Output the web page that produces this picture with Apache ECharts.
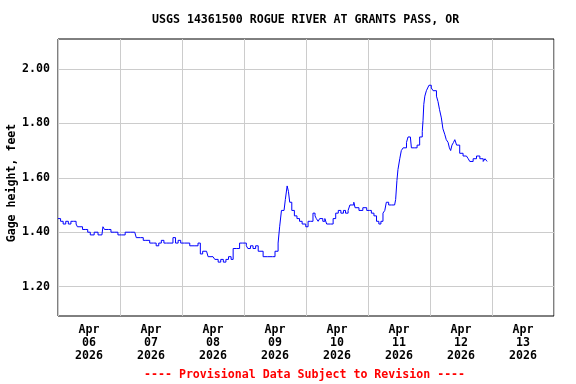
<!DOCTYPE html>
<html>
<head>
<meta charset="utf-8">
<script src="https://cdn.jsdelivr.net/npm/echarts@6/dist/echarts.min.js"></script>
<style>html,body{margin:0;padding:0;background:#fff;}#chart{width:576px;height:384px;}</style>
</head>
<body>
<div id="chart"></div>
<script>
// Data
const chartTitle = 'USGS 14361500 ROGUE RIVER AT GRANTS PASS, OR';
const footerText = '---- Provisional Data Subject to Revision ----';
const yAxisName = 'Gage height, feet';
// x values: hours after Apr 06 2026 00:00
const xTickLabels = ['Apr\n06\n2026','Apr\n07\n2026','Apr\n08\n2026','Apr\n09\n2026','Apr\n10\n2026','Apr\n11\n2026','Apr\n12\n2026','Apr\n13\n2026'];
const xLabelHours = [12, 36, 60, 84, 108, 132, 156, 180];
const yTickValues = [1.2, 1.4, 1.6, 1.8, 2.0];
const hours = [0,1,2,3,4,5,6,7,7.5,8.5,9.5,10.5,11.5,12.5,14,15.5,17,17.4,18,19.5,20.5,22,23.2,24.5,26,28,29.7,30.3,32,33,34,35.5,37,38,39,40,41,42,43,44.5,45.5,46.5,47.5,49,51,53,54.2,55.1,56,57.5,58.1,60,60.7,62,63,64,65,66,67,67.8,69,70.3,71.5,72.9,73.5,74.5,75.5,76.5,77.5,79.4,81,83,84,85.2,85.8,86.5,87.5,88,88.7,89.2,89.7,90.5,91.5,92.5,93.5,94.5,95.9,96.8,97.8,98.7,99.5,100,100.7,101.3,102.5,103.3,104,105.5,106.5,107.5,108.5,109.5,110.5,111.3,112.3,113,114.5,115,116.5,118,119.5,120.5,121.3,122.3,123.3,124.2,125,125.8,126.5,127.1,128,129.1,130.3,130.7,131.2,131.6,132.3,132.9,133.6,134.3,134.9,135.5,136.4,136.8,138.1,139,140,141,141.3,141.6,142,142.6,143.1,143.6,144.5,145.2,145.8,146.5,147.1,147.7,148.4,149,149.7,150.3,151,151.5,152,152.5,153.1,153.6,154.3,154.9,155.5,156.2,156.8,157.5,158.1,158.8,159.4,160,160.7,161.3,162,162.7,163.3,164,164.6,165.3,165.9,166.1];
const gageHeight = [1.45,1.44,1.43,1.44,1.43,1.44,1.44,1.43,1.42,1.42,1.41,1.41,1.40,1.39,1.40,1.39,1.39,1.42,1.41,1.41,1.40,1.40,1.39,1.39,1.40,1.40,1.40,1.38,1.38,1.37,1.37,1.36,1.36,1.35,1.36,1.37,1.36,1.36,1.36,1.38,1.36,1.37,1.36,1.36,1.35,1.35,1.36,1.32,1.33,1.33,1.31,1.31,1.30,1.29,1.30,1.29,1.30,1.31,1.30,1.34,1.34,1.36,1.36,1.35,1.34,1.35,1.34,1.35,1.33,1.31,1.31,1.31,1.33,1.36,1.42,1.48,1.48,1.52,1.57,1.55,1.51,1.48,1.46,1.45,1.44,1.43,1.42,1.44,1.44,1.47,1.46,1.45,1.44,1.45,1.44,1.45,1.43,1.43,1.45,1.47,1.48,1.47,1.48,1.47,1.48,1.50,1.51,1.49,1.48,1.49,1.48,1.48,1.47,1.46,1.44,1.43,1.44,1.47,1.48,1.51,1.50,1.50,1.50,1.52,1.59,1.63,1.67,1.70,1.71,1.71,1.73,1.75,1.75,1.71,1.71,1.72,1.75,1.77,1.81,1.87,1.90,1.92,1.93,1.94,1.93,1.92,1.92,1.90,1.88,1.85,1.82,1.78,1.76,1.74,1.73,1.71,1.70,1.72,1.73,1.74,1.72,1.72,1.69,1.69,1.68,1.68,1.68,1.67,1.66,1.66,1.67,1.67,1.68,1.68,1.67,1.67,1.66,1.67,1.67,1.66];

const seriesData = hours.map((h, i) => [h, gageHeight[i]]);

const FONT = 'DejaVu Sans Mono';
const chart = echarts.init(document.getElementById('chart'), null, {renderer: 'canvas'});
chart.setOption({
  animation: false,
  backgroundColor: '#ffffff',
  title: [
    {text: chartTitle, left: 152, top: 14, padding: 0,
     textStyle: {fontFamily: FONT, fontWeight: 'bold', fontSize: 11.6, color: '#000'}},
    {text: footerText, left: 144, top: 369, padding: 0,
     textStyle: {fontFamily: FONT, fontWeight: 'bold', fontSize: 11.6, color: '#ff0000'}}
  ],
  grid: {left: 58, right: 22, top: 39, bottom: 68, outerBoundsMode: 'none', containLabel: false,
         show: true, borderColor: '#000', borderWidth: 1, backgroundColor: 'transparent'},
  xAxis: {
    type: 'value', min: 0, max: 192, interval: 24,
    axisLine: {show: false},
    axisTick: {show: false},
    splitLine: {show: true, lineStyle: {color: '#cccccc', width: 1}},
    axisLabel: {
      customValues: xLabelHours,
      margin: 7,
      lineHeight: 13,
      fontFamily: FONT, fontWeight: 'bold', fontSize: 11.6, color: '#000',
      formatter: function (val) { return xTickLabels[xLabelHours.indexOf(val)]; }
    }
  },
  yAxis: {
    type: 'value', min: 1.092, max: 2.11,
    name: yAxisName, nameLocation: 'middle', nameGap: 40, nameRotate: 90, nameMoveOverlap: false,
    nameTextStyle: {fontFamily: FONT, fontWeight: 'bold', fontSize: 11.6, color: '#000', padding: [0, 11, 0, 0]},
    axisLine: {show: false},
    axisTick: {show: false, customValues: yTickValues},
    splitLine: {show: true, lineStyle: {color: '#cccccc', width: 1}},
    axisLabel: {
      customValues: yTickValues, margin: 8,
      fontFamily: FONT, fontWeight: 'bold', fontSize: 11.6, color: '#000',
      formatter: function (v) { return v.toFixed(2); }
    }
  },
  series: [{
    type: 'line', data: seriesData, showSymbol: false, symbol: 'none', step: 'end',
    lineStyle: {color: '#0000ff', width: 1}, itemStyle: {color: '#0000ff'}
  }]
});
</script>
</body>
</html>
